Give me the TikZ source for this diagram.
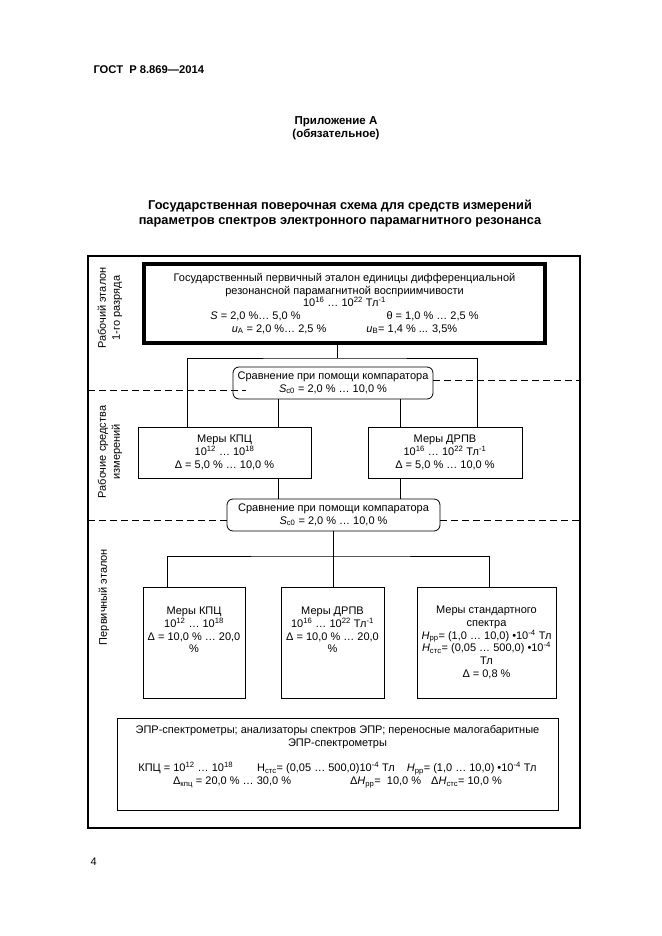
\documentclass[tikz,border=0pt]{standalone}
\usepackage{fontspec}
\setmainfont{Liberation Sans}
\usetikzlibrary{positioning}

\begin{document}
\begin{tikzpicture}[
  x=1pt, y=-1pt,
  font=\fontsize{11}{12.7}\selectfont,
  etalon/.style={rectangle, draw=black, line width=3.2pt, minimum width=401pt, minimum height=79pt, align=center, inner sep=0pt},
  measbox/.style={rectangle, draw=black, line width=0.8pt, align=center, inner sep=0pt},
  compbox/.style={rectangle, rounded corners=6pt, draw=black, line width=0.8pt, align=center, inner sep=0pt, minimum height=32pt},
  sidelabel/.style={rotate=90, align=center, font=\fontsize{11}{14}\selectfont},
  headline/.style={align=center, font=\bfseries\fontsize{11.5}{13}\selectfont},
  frame/.style={line width=1.4pt},
  zone/.style={dashed, line width=0.8pt, dash pattern=on 7pt off 4pt},
  link/.style={line width=0.8pt}
]
\useasboundingbox (0,0) rectangle (661,936);

% Page header
\node[headline, anchor=west, font=\bfseries\fontsize{11.2}{13}\selectfont] (gost) at (90,70) {ГОСТ\ \ Р 8.869—2014};
\node[headline] (annex) at (336,128) {Приложение А\\(обязательное)};
\node[headline, font=\bfseries\fontsize{12.8}{15}\selectfont] (title) at (340,214)
  {Государственная поверочная схема для средств измерений\\параметров спектров электронного парамагнитного резонанса};

% Frame
\draw[frame] (88,256) rectangle (580,828);

% Primary standard
\node[etalon] (std) at (344.5,303.5) {Государственный первичный эталон единицы дифференциальной\\
  резонансной парамагнитной восприимчивости\\
  10\textsuperscript{16} … 10\textsuperscript{22} Тл\textsuperscript{-1}\\
  \textit{S} = 2,0 \%… 5,0 \%\hspace{86pt}θ = 1,0 \% … 2,5 \%\\
  \textit{u}\textsubscript{A} = 2,0 \%… 2,5 \%\hspace{40pt}\textit{u}\textsubscript{B}= 1,4 \% ... 3,5\%};
\node[compbox, minimum width=200pt, below of=std, node distance=79.5pt, xshift=-11.5pt] (comp1)
  {Сравнение при помощи компаратора\\\textit{S}\textsubscript{c0} = 2,0 \% … 10,0 \%};

% Working measures
\node[measbox, minimum width=173pt, minimum height=51pt, below of=comp1, node distance=69.5pt, xshift=-108.5pt] (kpc1)
  {Меры КПЦ\\10\textsuperscript{12} … 10\textsuperscript{18}\\Δ = 5,0 \% … 10,0 \%};
\node[measbox, minimum width=154pt, minimum height=51pt, right of=kpc1, node distance=220.5pt] (drpv1)
  {Меры ДРПВ\\10\textsuperscript{16} … 10\textsuperscript{22} Тл\textsuperscript{-1}\\Δ = 5,0 \% … 10,0 \%};
\node[compbox, minimum width=213pt, below of=comp1, node distance=132pt, xshift=0.5pt] (comp2)
  {Сравнение при помощи компаратора\\\textit{S}\textsubscript{c0} = 2,0 \% … 10,0 \%};

% Working standard
\node[measbox, minimum width=102pt, minimum height=111pt, text depth=25pt, below of=comp2, node distance=127.5pt, xshift=-139.5pt] (kpc2)
  {Меры КПЦ\\10\textsuperscript{12} … 10\textsuperscript{18}\\Δ = 10,0 \% … 20,0\\\%};
\node[measbox, minimum width=103pt, minimum height=111pt, text depth=25pt, right of=kpc2, node distance=138.5pt] (drpv2)
  {Меры ДРПВ\\10\textsuperscript{16} … 10\textsuperscript{22} Тл\textsuperscript{-1}\\Δ = 10,0 \% … 20,0\\\%};
\node[measbox, minimum width=139pt, minimum height=111pt, right of=drpv2, node distance=154pt] (ssp)
  {Меры стандартного\\спектра\\\textit{H}\textsubscript{pp}= (1,0 … 10,0) •10\textsuperscript{-4} Тл\\
   \textit{H}\textsubscript{стс}= (0,05 … 500,0) •10\textsuperscript{-4}\\Тл\\Δ = 0,8 \%};

% Instruments
\node[measbox, minimum width=441pt, minimum height=92pt, text depth=18pt, below of=drpv2, node distance=121.5pt, xshift=5pt] (epr)
  {ЭПР-спектрометры; анализаторы спектров ЭПР; переносные малогабаритные\\ЭПР-спектрометры\\[12.7pt]
   КПЦ = 10\textsuperscript{12} … 10\textsuperscript{18}\hspace{24pt}H\textsubscript{стс}= (0,05 … 500,0)10\textsuperscript{-4} Тл\hspace{12pt}\textit{H}\textsubscript{pp}= (1,0 … 10,0) •10\textsuperscript{-4} Тл\\
   Δ\textsubscript{кпц} = 20,0 \% … 30,0 \%\hspace{59pt}Δ\textit{H}\textsubscript{pp}=\ \ 10,0 \%\hspace{10pt}Δ\textit{H}\textsubscript{стс}= 10,0 \%};

% Connectors
\coordinate (jtop) at (337,358);
\coordinate (jbot) at (333,556);
\coordinate (lshaft) at (278,0);
\coordinate (rshaft) at (400,0);
\draw[link] (std.south -| jtop) -- (jtop);
\draw[link] ([xshift=-37.5pt]kpc1.north) |- (jtop) -| ([xshift=32pt]drpv1.north);
\draw[link] (comp1.south -| lshaft) -- (kpc1.north -| lshaft);
\draw[link] (comp1.south -| rshaft) -- (drpv1.north -| rshaft);
\draw[link] (kpc1.south -| lshaft) -- (comp2.north -| lshaft);
\draw[link] (drpv1.south -| rshaft) -- (comp2.north -| rshaft);
\draw[link] (comp2.south -| jbot) -- (jbot);
\draw[link] ([xshift=-27pt]kpc2.north) |- (jbot) -| ([xshift=2.5pt]ssp.north);
\draw[link] (jbot) -- (drpv2.north -| jbot);

% Zone borders
\draw[zone] (88,390) -- ([xshift=13pt]comp1.west |- 0,390);
\draw[zone] (comp1.east |- 0,380) -- (580,380);
\draw[zone] (88,520) -- (comp2.west |- 0,520);
\draw[zone] (comp2.east |- 0,520) -- (580,520);

% Zone labels
\node[sidelabel] (lab1) at (110,308) {Рабочий эталон\\1-го разряда};
\node[sidelabel] (lab2) at (110,452) {Рабочие средства\\измерений};
\node[sidelabel] (lab3) at (104,597) {Первичный эталон};

% Page number
\node[anchor=west] (page) at (87,862) {4};

\end{tikzpicture}
\end{document}
